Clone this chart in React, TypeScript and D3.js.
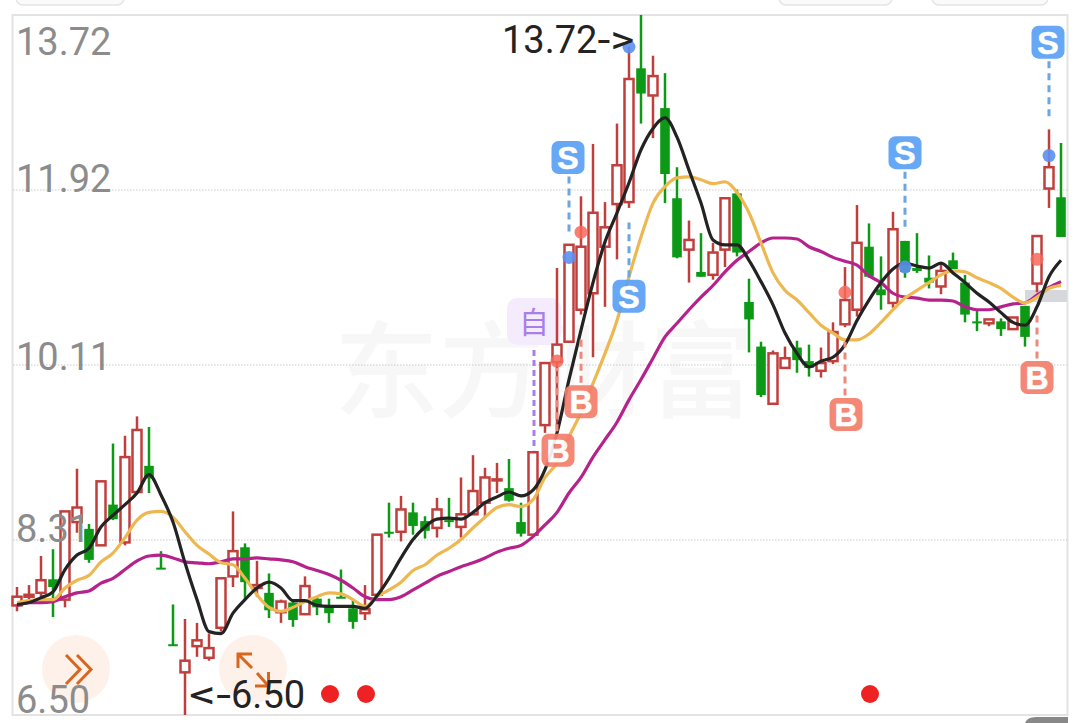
import React from "react";
import * as d3 from "d3";

const W = 1080, H = 723;
const PRICE_MAX = 13.72, PRICE_MIN = 6.5;
const TICKS = ["13.72", "11.92", "10.11", "8.31", "6.50"];

const opens = [7.63,7.72,7.76,7.9,7.69,8.49,8.42,8.25,8.67,8.28,8.8,9.07,8.02,7.23,6.94,7.21,7.09,7.4,7.93,8.23,7.81,7.76,7.56,7.66,7.54,7.7,7.62,7.72,7.6,7.55,7.74,8.39,8.39,8.59,8.5,8.43,8.51,8.44,8.57,8.69,8.92,8.84,8.49,8.36,9.49,10.14,10.35,10.68,10.85,11.33,11.77,11.79,13.17,12.89,12.76,11.83,11.3,11.07,11.04,11.3,11.88,10.76,10.3,9.71,10.08,10.29,10.15,10.05,10.15,10.53,10.68,11.33,10.89,10.75,11.39,11.11,11.01,10.92,11.19,10.96,10.56,10.54,10.56,10.48,10.72,10.95,11.93,11.84];
const closes = [7.72,7.74,7.89,7.82,8.6,8.64,8.1,8.91,8.52,9.16,9.44,8.94,8.01,7.22,7.06,7.27,7.19,7.91,8.19,7.87,7.84,7.58,7.67,7.48,7.83,7.61,7.55,7.71,7.46,7.59,8.36,8.37,8.62,8.45,8.4,8.62,8.49,8.57,8.81,8.95,8.93,8.71,8.37,9.21,10.13,10.32,11.35,11.33,11.68,11.53,12.17,13.06,12.91,13.09,12.08,11.22,11.4,11.02,11.27,11.83,11.27,10.58,9.8,10.23,10.18,10.16,10.08,10.13,10.45,10.78,11.37,11.02,10.83,11.51,11.07,11.08,10.96,11.08,11.1,10.63,10.54,10.58,10.48,10.6,10.4,11.44,12.15,11.43];
const highs = [7.82,7.84,8.14,8.21,8.6,9.04,8.47,8.91,9.3,9.38,9.58,9.47,8.19,7.64,7.49,7.45,7.34,7.91,8.6,8.27,8.09,7.96,7.69,7.69,7.93,7.72,7.7,8.0,7.69,7.84,8.36,8.69,8.76,8.69,8.55,8.74,8.74,8.95,9.18,9.05,9.1,9.14,8.69,9.21,10.13,11.11,11.35,11.85,12.39,11.79,12.6,13.39,13.72,13.3,13.12,12.15,11.6,11.47,11.37,11.83,11.92,11.0,10.35,10.26,10.3,10.36,10.32,10.29,10.55,11.12,11.76,11.57,11.23,11.69,11.39,11.47,11.24,11.17,11.27,11.04,10.67,10.58,10.59,10.6,10.72,11.44,12.54,12.4];
const lows = [7.57,7.69,7.72,7.51,7.61,8.38,8.07,8.25,8.51,8.25,8.79,8.79,8.01,7.22,6.5,7.1,7.06,7.36,7.82,7.69,7.72,7.5,7.45,7.41,7.53,7.53,7.45,7.71,7.39,7.48,7.74,8.33,8.29,8.36,8.32,8.33,8.44,8.33,8.57,8.54,8.79,8.7,8.34,8.36,9.41,9.44,10.35,10.63,10.19,10.71,11.2,11.73,12.6,12.45,11.78,11.21,10.96,11.02,10.99,11.12,11.23,10.24,9.78,9.71,10.07,10.03,9.99,9.98,10.12,10.5,10.61,11.01,10.68,10.7,11.01,11.06,10.9,10.84,11.1,10.55,10.46,10.51,10.41,10.48,10.3,10.86,11.73,11.43];

const maShort = [7.64,7.66,7.71,7.77,8.0,8.15,8.22,8.44,8.56,8.67,8.79,8.98,8.77,8.49,8.07,7.69,7.36,7.34,7.55,7.69,7.81,7.87,7.81,7.68,7.68,7.63,7.62,7.62,7.62,7.6,7.73,7.91,8.12,8.31,8.44,8.52,8.53,8.52,8.59,8.69,8.75,8.8,8.76,8.82,9.03,9.41,9.96,10.47,10.96,11.38,11.68,11.99,12.33,12.55,12.66,12.46,12.12,11.78,11.4,11.35,11.35,11.19,10.97,10.73,10.44,10.23,10.09,10.15,10.19,10.32,10.57,10.78,10.96,11.1,11.16,11.13,11.11,11.16,11.06,10.96,10.85,10.76,10.65,10.55,10.52,10.71,11.02,11.19];
const maMid = [7.66,7.68,7.69,7.69,7.81,7.89,7.94,8.08,8.17,8.33,8.51,8.59,8.6,8.54,8.39,8.25,8.16,8.07,8.05,7.91,7.74,7.61,7.57,7.61,7.67,7.72,7.76,7.75,7.69,7.62,7.72,7.79,7.87,7.99,8.05,8.15,8.22,8.31,8.43,8.54,8.64,8.67,8.65,8.72,8.95,9.1,9.37,9.62,9.92,10.23,10.57,11.02,11.43,11.78,11.95,12.04,12.05,12.02,11.98,12.0,11.89,11.68,11.37,11.06,10.88,10.78,10.65,10.52,10.44,10.37,10.37,10.43,10.55,10.68,10.8,10.88,10.96,11.04,11.08,11.07,11.01,10.96,10.9,10.81,10.75,10.81,10.9,10.93];
const maLong = [7.63,7.66,7.66,7.67,7.72,7.76,7.78,7.86,7.91,8.0,8.09,8.14,8.15,8.12,8.08,8.07,8.06,8.08,8.11,8.11,8.12,8.11,8.1,8.08,8.03,7.99,7.95,7.89,7.81,7.72,7.69,7.69,7.72,7.79,7.86,7.93,7.98,8.03,8.07,8.12,8.18,8.22,8.25,8.34,8.46,8.59,8.79,8.95,9.16,9.34,9.52,9.75,9.96,10.18,10.4,10.54,10.68,10.81,10.93,11.07,11.19,11.28,11.37,11.42,11.42,11.41,11.33,11.28,11.22,11.18,11.14,11.03,10.96,10.85,10.81,10.8,10.78,10.78,10.77,10.71,10.68,10.68,10.71,10.74,10.75,10.83,10.91,10.97];

const blueDotIdx = [51, 46, 86, 74];
const blueDotPrice = [13.39, 11.22, 12.27, 11.12];
const redDotIdx = [47, 45, 69, 85];
const redDotPrice = [11.48, 10.15, 10.86, 11.2];

const sellIdx = [46, 51, 74, 86];
const sellTag = [12.25, 10.82, 12.3, 13.44];
const sellDashEnd = [11.48, 11.58, 11.52, 12.66];
const buyIdx = [45, 47, 69, 85];
const buyTag = [9.23, 9.73, 9.6, 9.98];
const buyDashEnd = [10.08, 10.42, 10.35, 10.65];

const left = 13, right = 1067, top = 15, bottom = 715;
const y = d3.scaleLinear().domain([PRICE_MIN, PRICE_MAX]).range([bottom, top]);
const x = d3.scaleLinear().domain([0, 87]).range([17, 1061]);

const RED = "#c03f3c", GREEN = "#0c9a16";
const FONT = "Roboto, sans-serif";

function maPath(vals: number[]) {
  return d3.line<number>().x((_, i) => x(i)).y((d) => y(d)).curve(d3.curveMonotoneX)(vals) || "";
}

function Tag({ cx, cy, label, color }: { cx: number; cy: number; label: string; color: string }) {
  return (
    <g opacity={0.92}>
      <rect x={cx - 16.5} y={cy - 16.5} width={33} height={33} rx={7} fill={color} />
      <text x={cx} y={cy + 11.5} textAnchor="middle" fontFamily="'Liberation Sans', sans-serif" fontWeight={700} fontSize={32} fill="#fff" stroke="#fff" strokeWidth={0.6}>{label}</text>
    </g>
  );
}

export default function App() {
  const tickYs = d3.range(TICKS.length).map((i) => top + (i * (bottom - top)) / (TICKS.length - 1));
  const labelBase = [55, 192, 370, 542, 713];
  return (
    <svg width={W} height={H} viewBox={`0 0 ${W} ${H}`} style={{ position: "absolute", left: 0, top: 0, display: "block", background: "#fff" }}>
      {/* top chrome tabs */}
      {[[16, 108], [779, 113], [932, 116]].map(([tx, tw], i) => (
        <rect key={i} x={tx} y={-14} width={tw} height={19} rx={7} fill="#fafafb" stroke="#e4e4e6" strokeWidth={1.5} />
      ))}
      <path d="M1025 723 Q1027 717 1036 717 H1068 V723 Z" fill="#888" />

      {/* watermark */}
      <text x={334} y={409} fontFamily="'Noto Sans CJK SC', sans-serif" fontWeight={500} fontSize={105} fill="#f7f7f7">东方财富</text>

      {/* frame + grid */}
      <rect x={left - 0.5} y={top} width={right - left + 1} height={bottom - top} fill="none" stroke="#e3e3e3" strokeWidth={2} />
      {tickYs.slice(1, -1).map((ty, i) => (
        <line key={i} x1={left} x2={right} y1={ty} y2={ty} stroke="#c9c9c9" strokeWidth={1} strokeDasharray="1.5 1.5" />
      ))}

      {/* self-select tag */}
      <rect x={507} y={298} width={54} height={47} rx={10} fill="#f4ecfd" />
      <text x={534} y={333} textAnchor="middle" fontFamily="'Noto Sans CJK SC', sans-serif" fontSize={30} fill="#a97ee8">自</text>
      <line x1={x(43) + 1} x2={x(43) + 1} y1={350} y2={y(9.23)} stroke="#a97ee8" strokeWidth={3} strokeDasharray="6 4" />

      {/* grey price band */}
      <rect x={1025} y={290} width={42} height={12} fill="#d6d8dc" />

      {/* candles */}
      {opens.map((o, i) => {
        const c = closes[i];
        const up = c >= o;
        const col = up ? RED : GREEN;
        const t = y(Math.max(o, c)), b = y(Math.min(o, c));
        const cx = x(i);
        return (
          <g key={i}>
            <line x1={cx} x2={cx} y1={y(highs[i])} y2={y(lows[i])} stroke={col} strokeWidth={2.5} />
            {up ? (
              <rect x={cx - 4.5} y={t} width={9} height={Math.max(b - t, 1)} fill="#fff" stroke={col} strokeWidth={2.5} />
            ) : (
              <rect x={cx - 4.8} y={t} width={9.6} height={Math.max(b - t, 2)} fill={col} />
            )}
          </g>
        );
      })}

      {/* moving averages */}
      <path d={maPath(maLong)} fill="none" stroke="#b5228c" strokeWidth={3.2} />
      <path d={maPath(maMid)} fill="none" stroke="#edb851" strokeWidth={3.2} />
      <path d={maPath(maShort)} fill="none" stroke="#232323" strokeWidth={3.2} />

      {/* signal dashes */}
      {sellIdx.map((idx, i) => {
        const ty = y(sellTag[i]);
        const end = y(sellDashEnd[i]);
        const start = end > ty ? ty + 19 : ty - 19;
        return <line key={i} x1={x(idx)} x2={x(idx)} y1={start} y2={end} stroke="#6aa6df" strokeWidth={3} strokeDasharray="7 5" />;
      })}
      {buyIdx.map((idx, i) => {
        const ty = y(buyTag[i]);
        return <line key={i} x1={x(idx)} x2={x(idx)} y1={ty - 19} y2={y(buyDashEnd[i])} stroke="#e98a7c" strokeWidth={3} strokeDasharray="7 5" />;
      })}

      {/* dots */}
      {blueDotIdx.map((idx, i) => (
        <circle key={i} cx={x(idx)} cy={y(blueDotPrice[i])} r={6.5} fill="#5b8ff0" opacity={0.9} />
      ))}
      {redDotIdx.map((idx, i) => (
        <circle key={i} cx={x(idx)} cy={y(redDotPrice[i])} r={6.5} fill="#f8695a" opacity={0.85} />
      ))}

      {/* tags */}
      {sellIdx.map((idx, i) => (
        <Tag key={i} cx={x(idx) - (idx === 46 || idx === 86 ? 1 : 0)} cy={y(sellTag[i])} label="S" color="#5ba1f6" />
      ))}
      {buyIdx.map((idx, i) => (
        <Tag key={i} cx={x(idx) + (idx === 45 || idx === 69 ? 1 : 0)} cy={y(buyTag[i])} label="B" color="#f47e6c" />
      ))}

      {/* peach buttons */}
      <circle cx={76} cy={669} r={34} fill="#fdf0e8" opacity={0.95} />
      <circle cx={253} cy={669} r={34} fill="#fdf0e8" opacity={0.95} />
      <g fill="none" stroke="#d9661f" strokeWidth={3}>
        <path d="M66 655 L80 669.5 L66 684" />
        <path d="M77 655 L91 669.5 L77 684" />
        <path d="M252 654 H238 V668 M238.5 654.5 L252 668" />
        <path d="M268.5 672 V686 H255 M268 685.5 L257 673" />
      </g>

      {/* y labels */}
      {TICKS.map((t, i) => (
        <text key={t} x={16} y={labelBase[i]} fontFamily={FONT} fontSize={38} fill="#8c8c8c">{t}</text>
      ))}

      {/* extreme notes */}
      <text x={502} y={53} fontFamily={FONT} fontSize={38} fill="#232323">13.72<tspan textLength={37} lengthAdjust="spacingAndGlyphs">-&gt;</tspan></text>
      <text x={189} y={708} fontFamily={FONT} fontSize={38} fill="#232323"><tspan textLength={42} lengthAdjust="spacingAndGlyphs">&lt;-</tspan>6.50</text>

      {/* bottom red dots */}
      {[26, 29, 71].map((i) => (
        <circle key={i} cx={x(i) + 1} cy={694} r={9} fill="#ee2222" />
      ))}
    </svg>
  );
}
